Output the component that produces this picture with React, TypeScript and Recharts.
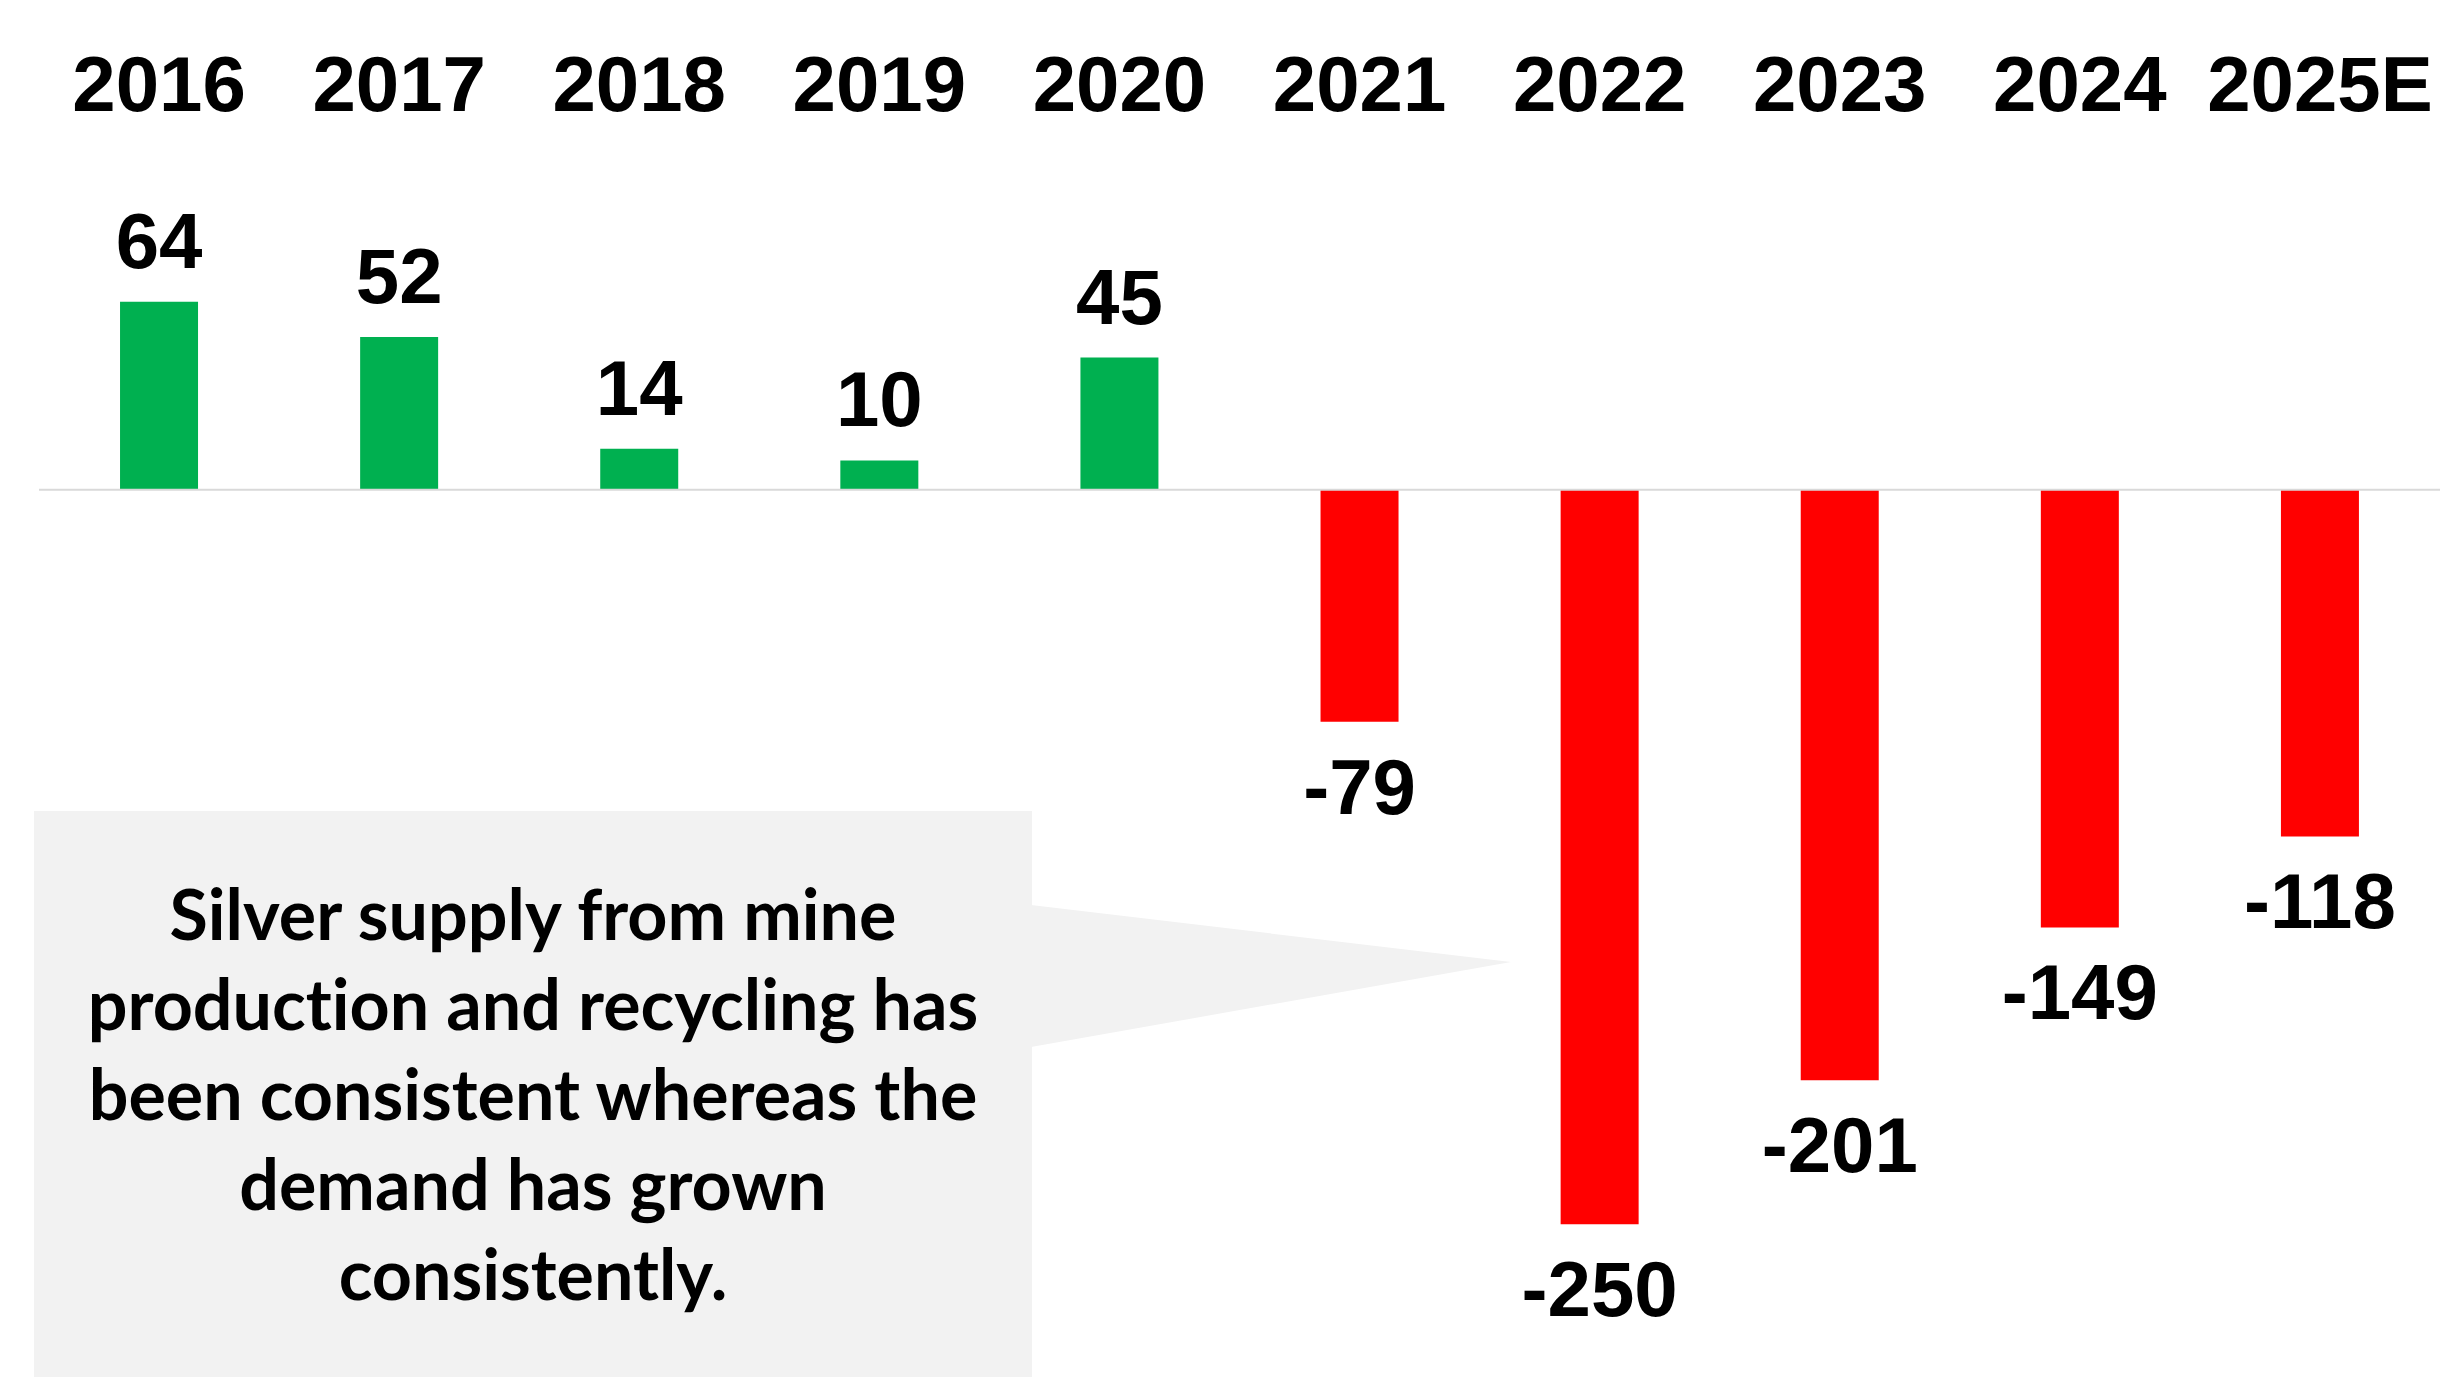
import { BarChart, Bar, XAxis, YAxis, ReferenceLine, Cell, LabelList } from 'recharts';

// silver market balance, million oz (surplus / deficit)
const YEARS = ['2016', '2017', '2018', '2019', '2020', '2021', '2022', '2023', '2024', '2025E'];
const BALANCE = [64, 52, 14, 10, 45, -79, -250, -201, -149, -118];

const NOTE_LINES = [
  'Silver supply from mine',
  'production and recycling has',
  'been consistent whereas the',
  'demand has grown',
  'consistently.',
];

const rows = YEARS.map((year, i) => ({ year, value: BALANCE[i] }));

const GREEN = '#00b050';
const RED = '#ff0000';
const NUM_FONT = "'Liberation Sans', Arial, sans-serif";
const NUM_SIZE = 78;

const YearTick = (props: any) => {
  const { x, y, payload } = props;
  return (
    <text x={x} y={y - 85} textAnchor="middle" fontFamily={NUM_FONT} fontWeight={700} fontSize={NUM_SIZE} fill="#000">
      {payload.value}
    </text>
  );
};

const ValueLabel = (props: any) => {
  const vb = props.viewBox || {};
  const x = props.x ?? vb.x;
  const y = props.y ?? vb.y;
  const w = props.width ?? vb.width;
  const h = props.height ?? vb.height;
  const v = Number(props.value);
  const top = Math.min(y, y + h);
  const bottom = Math.max(y, y + h);
  const ty = v >= 0 ? top - 34 : bottom + 92;
  return (
    <text x={x + w / 2} y={ty} textAnchor="middle" fontFamily={NUM_FONT} fontWeight={700} fontSize={NUM_SIZE} fill="#000">
      {v}
    </text>
  );
};

export default function App() {
  return (
    <div style={{ position: 'absolute', left: 0, top: 0, width: 2445, height: 1379, background: '#fff', overflow: 'hidden' }}>
      <BarChart
        width={2445}
        height={1379}
        data={rows}
        margin={{ top: 96, right: 5, bottom: 8, left: 39 }}
        barCategoryGap="33.75%"
      >
        <XAxis
          dataKey="year"
          orientation="top"
          height={100}
          axisLine={false}
          tickLine={false}
          tickSize={0}
          tickMargin={0}
          interval={0}
          tick={<YearTick />}
        />
        <YAxis hide domain={[-300, 100]} />
        <Bar dataKey="value" isAnimationActive={false}>
          {rows.map((r) => (
            <Cell key={r.year} fill={r.value >= 0 ? GREEN : RED} />
          ))}
          <LabelList dataKey="value" content={<ValueLabel />} />
        </Bar>
        <ReferenceLine y={0} stroke="#d9d9d9" strokeWidth={2} />
      </BarChart>

      {/* callout box */}
      <svg width={2445} height={1379} style={{ position: 'absolute', left: 0, top: 0, pointerEvents: 'none' }}>
        <rect x={34} y={811} width={998} height={566} fill="#f2f2f2" />
        <polygon points="1031,905 1511,962 1031,1047" fill="#f2f2f2" />
      </svg>
      <div
        style={{
          position: 'absolute',
          left: 34,
          top: 868,
          width: 998,
          textAlign: 'center',
          fontFamily: "Lato, 'Open Sans', sans-serif",
          fontWeight: 700,
          fontSize: 70,
          lineHeight: '90px',
          fontVariantLigatures: 'none',
          color: '#000',
        }}
      >
        {NOTE_LINES.map((l) => (
          <div key={l}>{l}</div>
        ))}
      </div>
    </div>
  );
}
